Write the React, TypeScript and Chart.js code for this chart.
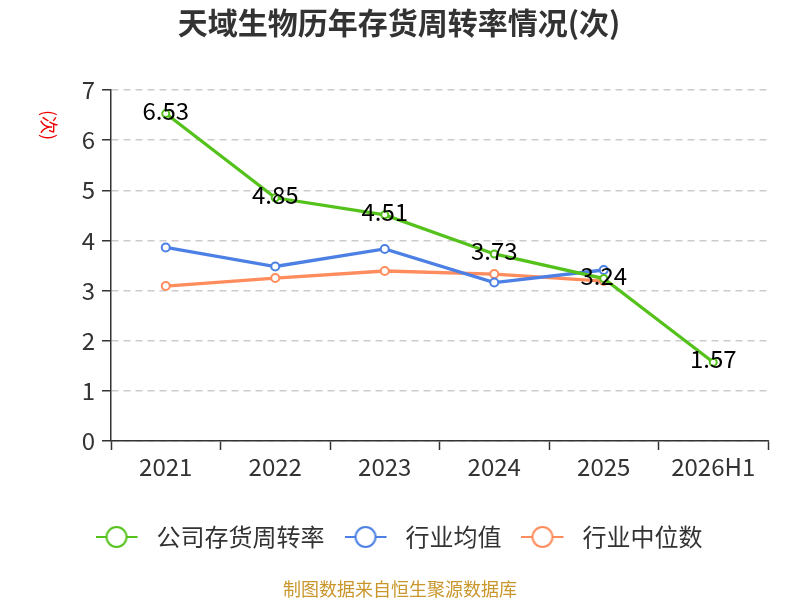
import { useEffect, useRef } from "react";
import { Chart, registerables } from "chart.js";

Chart.register(...registerables);

const categories = ["2021", "2022", "2023", "2024", "2025", "2026H1"];
const companyTurnover = [6.53, 4.85, 4.51, 3.73, 3.24, 1.57];
const industryMean = [3.86, 3.48, 3.83, 3.16, 3.41, null];
const industryMedian = [3.09, 3.25, 3.39, 3.33, 3.19, null];
const yMin = 0;
const yMax = 7;
const yStep = 1;

const seriesNames = ["公司存货周转率", "行业均值", "行业中位数"];
const titleText = "天域生物历年存货周转率情况(次)";
const unitText = "(次)";
const sourceText = "制图数据来自恒生聚源数据库";

const GREEN = "#55c21c";
const BLUE = "#4d80e4";
const ORANGE = "#ff8c5c";
const FONT = '"Noto Sans CJK SC", "Noto Sans", sans-serif';

function makeLegendIcon(color: string) {
  const c = document.createElement("canvas");
  c.width = 49;
  c.height = 24;
  const ctx = c.getContext("2d")!;
  ctx.strokeStyle = color;
  ctx.lineWidth = 2;
  ctx.beginPath();
  ctx.moveTo(0, 12);
  ctx.lineTo(42, 12);
  ctx.stroke();
  ctx.beginPath();
  ctx.arc(21, 12, 10, 0, Math.PI * 2);
  ctx.fillStyle = "#fff";
  ctx.fill();
  ctx.stroke();
  return c;
}

const extrasPlugin = {
  id: "extras",
  afterDatasetsDraw(chart: any) {
    const ctx = chart.ctx;
    const meta = chart.getDatasetMeta(0);
    ctx.save();
    ctx.font = `24px ${FONT}`;
    ctx.fillStyle = "#000";
    ctx.textAlign = "center";
    ctx.textBaseline = "middle";
    meta.data.forEach((pt: any, i: number) => {
      const v = companyTurnover[i];
      if (v == null) return;
      ctx.fillText(v.toFixed(2), pt.x, pt.y - 3);
    });
    ctx.restore();
  },
  afterDraw(chart: any) {
    const ctx = chart.ctx;
    ctx.save();
    ctx.translate(49, 125);
    ctx.rotate(Math.PI / 2);
    ctx.font = `18px ${FONT}`;
    ctx.fillStyle = "#e00";
    ctx.textAlign = "center";
    ctx.textBaseline = "middle";
    ctx.fillText(unitText, 0, 0);
    ctx.restore();
    ctx.save();
    ctx.font = `18px ${FONT}`;
    ctx.fillStyle = "#c9962c";
    ctx.textAlign = "center";
    ctx.textBaseline = "middle";
    ctx.fillText(sourceText, chart.width / 2, 589);
    ctx.restore();
  },
};

export default function App() {
  const ref = useRef<HTMLCanvasElement>(null);
  useEffect(() => {
    const icons = [makeLegendIcon(GREEN), makeLegendIcon(BLUE), makeLegendIcon(ORANGE)];
    const chart = new Chart(ref.current!, {
      type: "line",
      data: {
        labels: categories,
        datasets: [
          {
            label: seriesNames[0],
            data: companyTurnover,
            borderColor: GREEN,
            backgroundColor: "#fff",
            borderWidth: 3.3,
            pointRadius: 3.5,
            pointBorderWidth: 2,
            pointBackgroundColor: "#fff",
            pointBorderColor: GREEN,
            tension: 0,
          },
          {
            label: seriesNames[1],
            data: industryMean,
            borderColor: BLUE,
            backgroundColor: "#fff",
            borderWidth: 3.3,
            pointRadius: 4,
            pointBorderWidth: 2,
            pointBackgroundColor: "#fff",
            pointBorderColor: BLUE,
            tension: 0,
          },
          {
            label: seriesNames[2],
            data: industryMedian,
            borderColor: ORANGE,
            backgroundColor: "#fff",
            borderWidth: 3.3,
            pointRadius: 4,
            pointBorderWidth: 2,
            pointBackgroundColor: "#fff",
            pointBorderColor: ORANGE,
            tension: 0,
          },
        ],
      },
      options: {
        animation: false,
        responsive: false,
        layout: { padding: { left: 30, right: 32, top: 0, bottom: 41 } },
        plugins: {
          title: {
            display: true,
            text: titleText,
            color: "#333",
            font: { family: FONT, size: 30, weight: "bold", lineHeight: 1.2 },
            padding: { top: 5, bottom: 49 },
          },
          legend: {
            position: "bottom",
            labels: {
              usePointStyle: true,
              pointStyleWidth: 49,
              padding: 20,
              color: "#333",
              font: { family: FONT, size: 24 },
              generateLabels: (chart: any) => {
                const items = Chart.defaults.plugins.legend.labels.generateLabels(chart);
                items.forEach((it: any, i: number) => {
                  it.pointStyle = icons[i];
                });
                return items;
              },
            },
          },
          tooltip: { enabled: false },
        },
        scales: {
          x: {
            offset: true,
            grid: {
              display: true,
              drawOnChartArea: false,
              drawTicks: true,
              tickLength: 9,
              tickColor: "#333",
              tickWidth: 1.5,
              offset: true,
            },
            border: { display: true, color: "#333", width: 1.5 },
            ticks: {
              color: "#333",
              font: { family: FONT, size: 24 },
              padding: 2,
              maxRotation: 0,
            },
            afterFit: (scale: any) => {
              scale.height = 64;
            },
          },
          y: {
            min: yMin,
            max: yMax,
            ticks: {
              stepSize: yStep,
              color: "#333",
              font: { family: FONT, size: 24 },
              padding: 7,
            },
            grid: {
              color: "#ccc",
              lineWidth: 1.5,
              drawTicks: true,
              tickLength: 9,
              tickColor: "#333",
              tickWidth: 1.5,
              tickBorderDash: [],
            },
            border: { display: true, color: "#333", width: 1.5, dash: [7, 5] },
            afterFit: (scale: any) => {
              scale.width = 81;
            },
          },
        },
      },
      plugins: [extrasPlugin],
    } as any);
    return () => chart.destroy();
  }, []);
  return (
    <div style={{ position: "fixed", left: 0, top: 0, width: 800, height: 600, background: "#fff" }}>
      <canvas ref={ref} width={800} height={600} style={{ width: 800, height: 600 }} />
    </div>
  );
}
